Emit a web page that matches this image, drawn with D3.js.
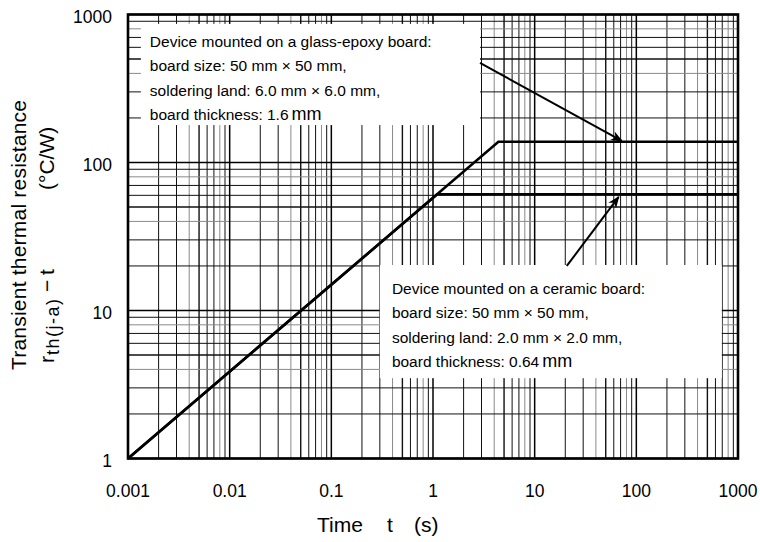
<!DOCTYPE html>
<html>
<head>
<meta charset="utf-8">
<script src="https://cdn.jsdelivr.net/npm/d3@7"></script>
<style>
  body { margin: 0; background: #fff; }
  svg { font-family: "Liberation Sans", Arial, sans-serif; }
</style>
</head>
<body>
<div id="chart"></div>
<script>
// Data
const xDecades = [0.001, 0.01, 0.1, 1, 10, 100, 1000];
const xTickLabels = ["0.001", "0.01", "0.1", "1", "10", "100", "1000"];
const yDecades = [1, 10, 100, 1000];
const yTickLabels = ["1", "10", "100", "1000"];

// glass-epoxy board curve
const glassT = [0.001, 4.4, 1000];
const glassR = [1, 138, 138];
// ceramic board curve (joins the same rising line)
const ceramicT = [0.001, 1.1, 1000];
const ceramicR = [1, 61, 61];

const glassNote = [
  "Device mounted on a glass-epoxy board:",
  "board size: 50 mm \u00d7 50 mm,",
  "soldering land: 6.0 mm \u00d7 6.0 mm,",
  "board thickness: 1.6"
];
const ceramicNote = [
  "Device mounted on a ceramic board:",
  "board size: 50 mm \u00d7 50 mm,",
  "soldering land: 2.0 mm \u00d7 2.0 mm,",
  "board thickness: 0.64"
];

const width = 760, height = 542;
const margin = {left: 128, right: 22, top: 14.5, bottom: 83.5};
const plotW = width - margin.left - margin.right;
const plotH = height - margin.top - margin.bottom;

const svg = d3.select("#chart")
              .append("svg")
              .attr("width", width)
              .attr("height", height);

const x = d3.scaleLog().domain([0.001, 1000]).range([margin.left, margin.left + plotW]);
const y = d3.scaleLog().domain([1, 1000]).range([margin.top + plotH, margin.top]);

// minor gridline values 2..9 per decade
function minorValues(decades) {
  const out = [];
  decades.slice(0, -1).forEach(d => {
    for (let k = 2; k <= 9; k++) out.push({v: d * k, k: k});
  });
  return out;
}
const greyK = new Set([4, 8]);
const lineColor = d => greyK.has(d.k) ? "#8a8a8a" : "#111";

const grid = svg.append("g");

grid.selectAll(".vminor")
    .data(minorValues(xDecades))
    .join("line")
    .attr("x1", d => x(d.v)).attr("x2", d => x(d.v))
    .attr("y1", y(1)).attr("y2", y(1000))
    .attr("stroke", lineColor)
    .attr("stroke-width", d => d.k === 5 ? 1.4 : 1);

grid.selectAll(".hminor")
    .data(minorValues(yDecades))
    .join("line")
    .attr("y1", d => y(d.v)).attr("y2", d => y(d.v))
    .attr("x1", x(0.001)).attr("x2", x(1000))
    .attr("stroke", lineColor)
    .attr("stroke-width", d => d.k === 5 ? 1.6 : 1);

grid.selectAll(".vmajor")
    .data(xDecades)
    .join("line")
    .attr("x1", d => x(d)).attr("x2", d => x(d))
    .attr("y1", y(1)).attr("y2", y(1000))
    .attr("stroke", "#000").attr("stroke-width", 1.5);

grid.selectAll(".hmajor")
    .data(yDecades)
    .join("line")
    .attr("y1", d => y(d)).attr("y2", d => y(d))
    .attr("x1", x(0.001)).attr("x2", x(1000))
    .attr("stroke", "#000").attr("stroke-width", 1.5);

// white note boxes cover the grid
const boxes = [
  {x0: 0.00134, x1: 2.9, y0: 864, y1: 179},
  {x0: 0.30, x1: 693, y0: 20.3, y1: 3.49}
];
svg.selectAll(".box")
   .data(boxes)
   .join("rect")
   .attr("x", d => x(d.x0))
   .attr("y", d => y(d.y0))
   .attr("width", d => x(d.x1) - x(d.x0))
   .attr("height", d => y(d.y1) - y(d.y0))
   .attr("fill", "#fff");

// curves
const line = d3.line().x(d => x(d[0])).y(d => y(d[1]));
[[ceramicT, ceramicR], [glassT, glassR]].forEach(([ts, rs]) => {
  svg.append("path")
     .datum(ts.map((t, i) => [t, rs[i]]))
     .attr("d", line)
     .attr("fill", "none")
     .attr("stroke", "#000")
     .attr("stroke-width", 2.6)
     .attr("stroke-linejoin", "miter");
});

// frame
svg.append("rect")
   .attr("x", x(0.001)).attr("y", y(1000))
   .attr("width", plotW).attr("height", plotH)
   .attr("fill", "none").attr("stroke", "#000").attr("stroke-width", 2.6);

// arrows
svg.append("defs").append("marker")
   .attr("id", "head")
   .attr("viewBox", "0 0 10 10")
   .attr("refX", 9).attr("refY", 5)
   .attr("markerWidth", 6).attr("markerHeight", 6)
   .attr("markerUnits", "strokeWidth")
   .attr("orient", "auto")
   .append("path")
   .attr("d", "M0,1 L10,5 L0,9 L3,5 Z")
   .attr("fill", "#000");

const arrows = [
  {t0: 2.9, r0: 471, t1: 72, r1: 140},
  {t0: 20.7, r0: 20, t1: 67, r1: 58.5}
];
svg.selectAll(".arrow")
   .data(arrows)
   .join("line")
   .attr("x1", d => x(d.t0)).attr("y1", d => y(d.r0))
   .attr("x2", d => x(d.t1)).attr("y2", d => y(d.r1))
   .attr("stroke", "#000").attr("stroke-width", 2)
   .attr("marker-end", "url(#head)");

// note text
function note(lines, left, firstBase) {
  const g = svg.append("g").attr("font-size", 15.5).attr("fill", "#000");
  lines.forEach((s, i) => {
    const t = g.append("text")
               .attr("x", left)
               .attr("y", firstBase + i * 24.5)
               .text(s);
    if (i === lines.length - 1) {
      t.append("tspan").attr("dx", 3).attr("font-size", 18).text("mm");
    }
  });
}
note(glassNote, x(0.00164), 46.5);
note(ceramicNote, x(0.394), 293.5);

// tick labels
svg.append("g")
   .attr("font-size", 17.5)
   .attr("text-anchor", "middle")
   .selectAll("text")
   .data(xDecades)
   .join("text")
   .attr("x", d => x(d))
   .attr("y", y(1) + 38)
   .text((d, i) => xTickLabels[i]);

svg.append("g")
   .attr("font-size", 17.5)
   .attr("text-anchor", "end")
   .selectAll("text")
   .data(yDecades)
   .join("text")
   .attr("x", margin.left - 16)
   .attr("y", d => y(d) + 8)
   .text((d, i) => yTickLabels[i]);

// axis titles
const xt = svg.append("text")
   .attr("y", 531.5)
   .attr("font-size", 21);
xt.append("tspan").attr("x", 317).text("Time");
xt.append("tspan").attr("x", 387).text("t");
xt.append("tspan").attr("x", 414).text("(s)");

svg.append("text")
   .attr("transform", "translate(26,370) rotate(-90)")
   .attr("font-size", 21)
   .attr("textLength", 270)
   .attr("lengthAdjust", "spacing")
   .text("Transient thermal resistance");

// second title line, laid out along the rotated baseline
const yt2 = svg.append("text")
   .attr("transform", "translate(54,0) rotate(-90)")
   .attr("font-size", 21);
yt2.append("tspan").attr("x", -363).text("r");
yt2.append("tspan").attr("x", -355).attr("dy", 5).attr("font-size", 18)
   .attr("textLength", 56).attr("lengthAdjust", "spacing").text("th(j-a)");
yt2.append("tspan").attr("x", -292).attr("dy", -5).text("\u2212");
yt2.append("tspan").attr("x", -275).text("t");
yt2.append("tspan").attr("x", -190).text("(\u00b0C/W)");
</script>
</body>
</html>
